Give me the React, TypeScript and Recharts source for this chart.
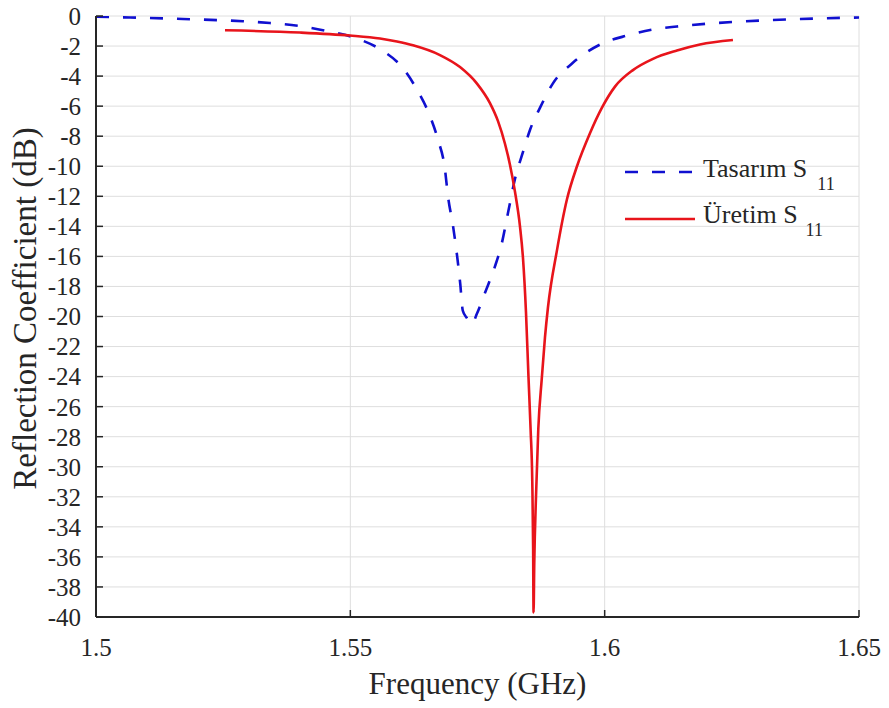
import { LineChart, Line, XAxis, YAxis, CartesianGrid } from 'recharts';

// Tasarım (design) S11
const designFreq = [
  1.5, 1.5067, 1.5171, 1.5289, 1.5342, 1.5401, 1.5454, 1.5513, 1.5558, 1.5604,
  1.5631, 1.5657, 1.5672, 1.5686, 1.5692, 1.5702, 1.571, 1.5716, 1.5721, 1.5729,
  1.5739, 1.5749, 1.5765, 1.5784, 1.5798, 1.581, 1.5824, 1.5839, 1.5853, 1.5873,
  1.5898, 1.5938, 1.5991, 1.6044, 1.6095, 1.6142, 1.6252, 1.6384, 1.65,
];
const designS11 = [
  -0.05, -0.1, -0.2, -0.35, -0.47, -0.67, -1.0, -1.5, -2.2, -3.5,
  -4.9, -6.7, -8.2, -10.2, -12.0, -14.0, -16.0, -17.8, -19.6, -20.1,
  -20.5, -19.8, -18.4, -16.7, -15.1, -13.1, -10.8, -9.1, -7.6, -6.1,
  -4.5, -3.1, -1.9, -1.3, -0.9, -0.7, -0.4, -0.2, -0.1,
];

// Üretim (fabricated) S11
const measFreq = [
  1.52536, 1.5401, 1.54993, 1.55583, 1.55917, 1.56232, 1.56762, 1.57156, 1.5749, 1.57745,
  1.57903, 1.5804, 1.58138, 1.58237, 1.58335, 1.58394, 1.58453, 1.58502, 1.58545, 1.58577,
  1.58594, 1.58602, 1.58616, 1.5865, 1.58695, 1.58762, 1.58826, 1.58885, 1.59062, 1.59259,
  1.59456, 1.59711, 1.59947, 1.60203, 1.60556, 1.6095, 1.61421, 1.61873, 1.62522,
];
const measS11 = [
  -0.95, -1.1, -1.3, -1.5, -1.7, -1.95, -2.6, -3.4, -4.5, -5.8,
  -7.0, -8.5, -9.9, -11.7, -14.0, -16.1, -19.7, -24.0, -27.6, -31.0,
  -35.5, -39.7, -36.4, -32.0, -27.5, -24.2, -21.4, -19.4, -15.6, -12.2,
  -10.0, -7.8, -6.1, -4.7, -3.6, -2.85, -2.3, -1.9, -1.6,
];

const xTicks = [1.5, 1.55, 1.6, 1.65];
const yTicks = [0, -2, -4, -6, -8, -10, -12, -14, -16, -18, -20, -22, -24, -26, -28, -30, -32, -34, -36, -38, -40];

const designData = designFreq.map((f, i) => ({ f, s11: designS11[i] }));
const measData = measFreq.map((f, i) => ({ f, s11: measS11[i] }));

const FONT = "'Liberation Serif', 'DejaVu Serif', 'Times New Roman', serif";
const TEXT = '#262626';
const BLUE = '#1010d0';
const RED = '#e8141b';

export default function App() {
  return (
    <div style={{ position: 'relative', width: 881, height: 708, marginTop: -8, fontFamily: FONT }}>
      <LineChart width={881} height={708} margin={{ top: 16, right: 30, bottom: 31, left: 0 }}>
        <CartesianGrid stroke="#dedede" strokeWidth={1} />
        <XAxis
          type="number"
          dataKey="f"
          domain={[1.5, 1.65]}
          ticks={xTicks}
          interval={0}
          allowDataOverflow
          height={60}
          tickSize={-7}
          tickMargin={28}
          axisLine={{ stroke: TEXT, strokeWidth: 2 }}
          tickLine={{ stroke: TEXT, strokeWidth: 1.5 }}
          tick={{ fill: TEXT, fontSize: 25, fontFamily: FONT }}
          label={{
            content: (props: any) => {
              const vb = props.viewBox;
              return (
                <text x={vb.x + vb.width / 2} y={vb.y + 77} textAnchor="middle" fill={TEXT} fontSize={31} fontFamily={FONT}>
                  Frequency (GHz)
                </text>
              );
            },
          }}
        />
        <YAxis
          type="number"
          domain={[-40, 0]}
          ticks={yTicks}
          interval={0}
          allowDataOverflow
          width={88}
          tickSize={-7}
          tickMargin={22}
          axisLine={{ stroke: TEXT, strokeWidth: 2 }}
          tickLine={{ stroke: TEXT, strokeWidth: 1.5 }}
          tick={{ fill: TEXT, fontSize: 25, fontFamily: FONT }}
          label={{
            content: (props: any) => {
              const vb = props.viewBox;
              const cx = vb.x + 28;
              const cy = vb.y + vb.height / 2 - 8;
              return (
                <text x={cx} y={cy} transform={`rotate(-90, ${cx}, ${cy})`} textAnchor="middle" fill={TEXT} fontSize={33} fontFamily={FONT}>
                  Reflection Coefficient (dB)
                </text>
              );
            },
          }}
        />
        <Line
          data={designData}
          dataKey="s11"
          type="monotone"
          stroke={BLUE}
          strokeWidth={2.6}
          strokeDasharray="13 14"
          dot={false}
          isAnimationActive={false}
        />
        <Line
          data={measData}
          dataKey="s11"
          type="monotone"
          stroke={RED}
          strokeWidth={2.6}
          dot={false}
          isAnimationActive={false}
        />
      </LineChart>
      <svg width={260} height={100} style={{ position: 'absolute', left: 610, top: 148 }}>
        <line x1={7} y1={24} x2={77} y2={24} stroke={BLUE} strokeWidth={2.6} strokeDasharray="13 14" />
        <text x={85} y={29} fill={TEXT} fontSize={26} fontFamily={FONT}>
          Tasarım S<tspan dx={10} dy={13} fontSize={18}>11</tspan>
        </text>
        <line x1={7} y1={71} x2={77} y2={71} stroke={RED} strokeWidth={2.6} />
        <text x={85} y={75} fill={TEXT} fontSize={26} fontFamily={FONT}>
          Üretim S<tspan dx={8} dy={13} fontSize={18}>11</tspan>
        </text>
      </svg>
    </div>
  );
}
